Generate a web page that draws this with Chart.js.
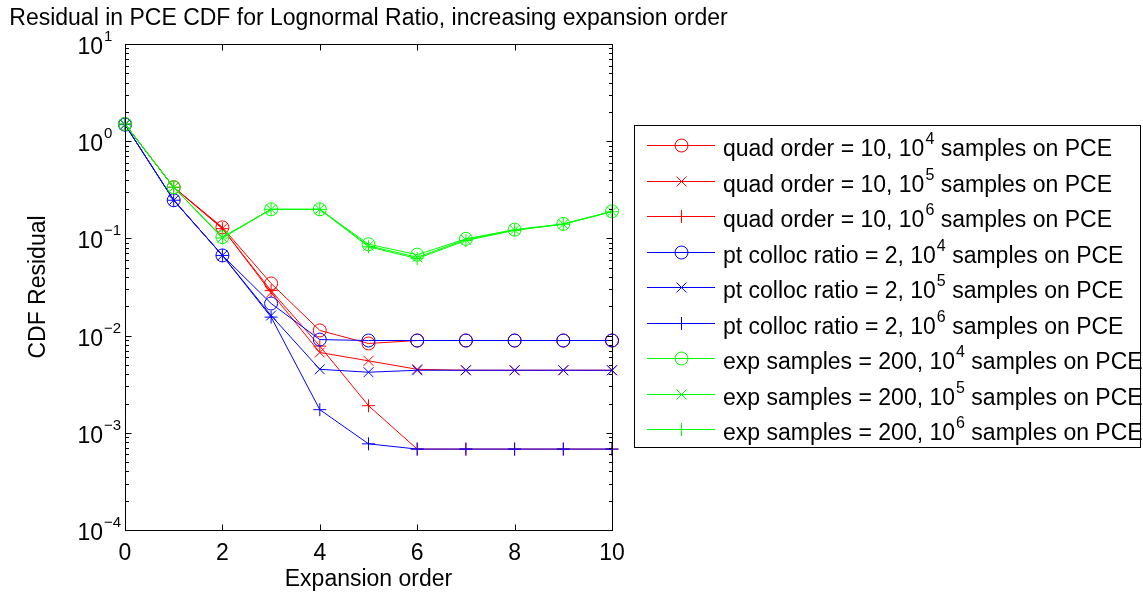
<!DOCTYPE html>
<html>
<head>
<meta charset="utf-8">
<script src="https://cdn.jsdelivr.net/npm/chart.js@4/dist/chart.umd.min.js"></script>
<style>
  html, body { margin: 0; padding: 0; background: #fff; }
  #wrap { width: 1143px; height: 592px; position: relative; }
</style>
</head>
<body>
<div id="wrap"><canvas id="c" width="1143" height="592"></canvas></div>
<script>
// ---------- data ----------
const orders = [0, 1, 2, 3, 4, 5, 6, 7, 8, 9, 10];
const quad1e4    = [1.50, 0.336, 0.130, 0.0344, 0.0113, 0.0083, 0.0089, 0.0089, 0.0089, 0.0089, 0.0089];
const quad1e5    = [1.50, 0.336, 0.127, 0.0277, 0.0067, 0.0055, 0.0045, 0.0044, 0.0044, 0.0044, 0.0044];
const quad1e6    = [1.50, 0.336, 0.126, 0.0290, 0.0078, 0.0019, 0.00068, 0.00068, 0.00068, 0.00068, 0.00068];
const colloc1e4  = [1.48, 0.247, 0.0668, 0.0214, 0.0091, 0.0089, 0.0089, 0.0089, 0.0089, 0.0089, 0.0089];
const colloc1e5  = [1.48, 0.247, 0.0668, 0.0161, 0.0045, 0.0042, 0.0044, 0.0044, 0.0044, 0.0044, 0.0044];
const colloc1e6  = [1.48, 0.247, 0.0668, 0.0155, 0.00173, 0.00077, 0.00068, 0.00068, 0.00068, 0.00068, 0.00068];
const exp1e4     = [1.50, 0.336, 0.103, 0.199, 0.199, 0.087, 0.068, 0.099, 0.123, 0.141, 0.190];
const exp1e5     = [1.50, 0.336, 0.102, 0.199, 0.199, 0.084, 0.064, 0.097, 0.122, 0.140, 0.189];
const exp1e6     = [1.50, 0.336, 0.101, 0.199, 0.199, 0.082, 0.062, 0.095, 0.121, 0.140, 0.188];

const xTickValues = [0, 2, 4, 6, 8, 10];
const yTickExponents = [1, 0, -1, -2, -3, -4];

const titleText = 'Residual in PCE CDF for Lognormal Ratio, increasing expansion order';
const xLabelText = 'Expansion order';
const yLabelText = 'CDF Residual';

const seriesInfo = [
  { label: ['quad order = 10, 10', '4', ' samples on PCE'], data: quad1e4, color: '#ff0000', style: 'circle' },
  { label: ['quad order = 10, 10', '5', ' samples on PCE'], data: quad1e5, color: '#ff0000', style: 'crossRot' },
  { label: ['quad order = 10, 10', '6', ' samples on PCE'], data: quad1e6, color: '#ff0000', style: 'cross' },
  { label: ['pt colloc ratio = 2, 10', '4', ' samples on PCE'], data: colloc1e4, color: '#0000ff', style: 'circle' },
  { label: ['pt colloc ratio = 2, 10', '5', ' samples on PCE'], data: colloc1e5, color: '#0000ff', style: 'crossRot' },
  { label: ['pt colloc ratio = 2, 10', '6', ' samples on PCE'], data: colloc1e6, color: '#0000ff', style: 'cross' },
  { label: ['exp samples = 200, 10', '4', ' samples on PCE'], data: exp1e4, color: '#00ff00', style: 'circle' },
  { label: ['exp samples = 200, 10', '5', ' samples on PCE'], data: exp1e5, color: '#00ff00', style: 'crossRot' },
  { label: ['exp samples = 200, 10', '6', ' samples on PCE'], data: exp1e6, color: '#00ff00', style: 'cross' }
];

const FONT = '"Liberation Sans", Arial, Helvetica, sans-serif';
const radiusFor = s => s === 'circle' ? 6.5 : (s === 'crossRot' ? 7 : 6.5);

const datasets = seriesInfo.map((s, i) => ({
  label: s.label.join(''),
  data: orders.map((o, k) => ({ x: o, y: s.data[k] })),
  borderColor: s.color,
  backgroundColor: 'rgba(0,0,0,0)',
  pointBackgroundColor: 'rgba(0,0,0,0)',
  pointBorderColor: s.color,
  pointStyle: s.style,
  pointRadius: radiusFor(s.style),
  pointBorderWidth: 1,
  borderWidth: 1,
  tension: 0,
  clip: false,
  order: seriesInfo.length - i
}));

function line(ctx, x1, y1, x2, y2) {
  ctx.beginPath(); ctx.moveTo(x1, y1); ctx.lineTo(x2, y2); ctx.stroke();
}

function drawMarker(ctx, style, r, x, y) {
  ctx.beginPath();
  if (style === 'circle') {
    ctx.arc(x, y, r, 0, Math.PI * 2);
  } else if (style === 'crossRot') {
    const d = r * Math.SQRT1_2;
    ctx.moveTo(x - d, y - d); ctx.lineTo(x + d, y + d);
    ctx.moveTo(x - d, y + d); ctx.lineTo(x + d, y - d);
  } else {
    ctx.moveTo(x - r, y); ctx.lineTo(x + r, y);
    ctx.moveTo(x, y - r); ctx.lineTo(x, y + r);
  }
  ctx.stroke();
}

const matlabAxes = {
  id: 'matlabAxes',
  afterDatasetsDraw(chart) {
    const { ctx, chartArea: a, scales } = chart;
    const xs = scales.x, ys = scales.y;
    ctx.save();
    ctx.strokeStyle = '#000';
    ctx.lineWidth = 1;
    const L = Math.round(a.left) + 0.5, R = Math.round(a.right) + 0.5;
    const T = Math.round(a.top) + 0.5, B = Math.round(a.bottom) + 0.5;
    ctx.strokeRect(L, T, R - L, B - T);

    // x ticks
    xTickValues.forEach(v => {
      const px = Math.round(xs.getPixelForValue(v)) + 0.5;
      line(ctx, px, B, px, B - 6);
      line(ctx, px, T, px, T + 6);
    });
    // y ticks (major + minor)
    for (let e = -4; e <= 1; e++) {
      const py = Math.round(ys.getPixelForValue(Math.pow(10, e))) + 0.5;
      line(ctx, L, py, L + 6, py);
      line(ctx, R, py, R - 6, py);
      if (e < 1) {
        for (let m = 2; m <= 9; m++) {
          const pm = Math.round(ys.getPixelForValue(m * Math.pow(10, e))) + 0.5;
          line(ctx, L, pm, L + 3.5, pm);
          line(ctx, R, pm, R - 3.5, pm);
        }
      }
    }

    ctx.fillStyle = '#000';
    // x tick labels
    ctx.font = '23px ' + FONT;
    ctx.textAlign = 'center';
    ctx.textBaseline = 'alphabetic';
    xTickValues.forEach(v => {
      ctx.fillText(String(v), xs.getPixelForValue(v), 560);
    });
    // y tick labels: 10^e
    yTickExponents.forEach(e => {
      const py = ys.getPixelForValue(Math.pow(10, e));
      ctx.font = '23px ' + FONT;
      ctx.textAlign = 'right';
      ctx.fillText('10', 103, py + 10);
      ctx.font = '15px ' + FONT;
      ctx.textAlign = 'left';
      const ex = e < 0 ? '\u2212' + String(-e) : String(e);
      ctx.fillText(ex, 104, py - 3);
    });

    // title
    ctx.font = '23px ' + FONT;
    ctx.textAlign = 'center';
    ctx.fillText(titleText, (a.left + a.right) / 2, 25);
    // x label
    ctx.fillText(xLabelText, (a.left + a.right) / 2, 586);
    // y label
    ctx.save();
    ctx.translate(45, (a.top + a.bottom) / 2);
    ctx.rotate(-Math.PI / 2);
    ctx.fillText(yLabelText, 0, 0);
    ctx.restore();

    // legend
    const bx = 634.5, by = 125.5, bw = 506, bh = 322;
    ctx.fillStyle = '#fff';
    ctx.fillRect(bx, by, bw, bh);
    ctx.strokeStyle = '#000';
    ctx.lineWidth = 1;
    ctx.strokeRect(bx, by, bw, bh);
    seriesInfo.forEach((s, i) => {
      const ry = Math.round(145 + i * 35.5);
      ctx.fillStyle = s.color;
      ctx.fillRect(647, ry, 68, 1);
      ctx.strokeStyle = s.color;
      ctx.lineWidth = 1;
      drawMarker(ctx, s.style, radiusFor(s.style), 681.5, ry + 0.5);
      ctx.fillStyle = '#000';
      ctx.textAlign = 'left';
      let tx = 723;
      const base = ry + 11;
      ctx.font = '23px ' + FONT;
      ctx.fillText(s.label[0], tx, base);
      tx += ctx.measureText(s.label[0]).width + 1;
      ctx.font = '16px ' + FONT;
      ctx.fillText(s.label[1], tx, base - 12);
      tx += ctx.measureText(s.label[1]).width;
      ctx.font = '23px ' + FONT;
      ctx.fillText(s.label[2], tx, base);
    });
    ctx.restore();
  }
};

new Chart(document.getElementById('c'), {
  type: 'line',
  data: { datasets },
  options: {
    responsive: false,
    animation: false,
    events: [],
    layout: { padding: { left: 125, top: 44, right: 1143 - 612, bottom: 592 - 530 } },
    plugins: { legend: { display: false }, title: { display: false }, tooltip: { enabled: false } },
    scales: {
      x: { type: 'linear', min: 0, max: 10, display: false },
      y: { type: 'logarithmic', min: 1e-4, max: 10, display: false }
    }
  },
  plugins: [matlabAxes]
});
</script>
</body>
</html>
